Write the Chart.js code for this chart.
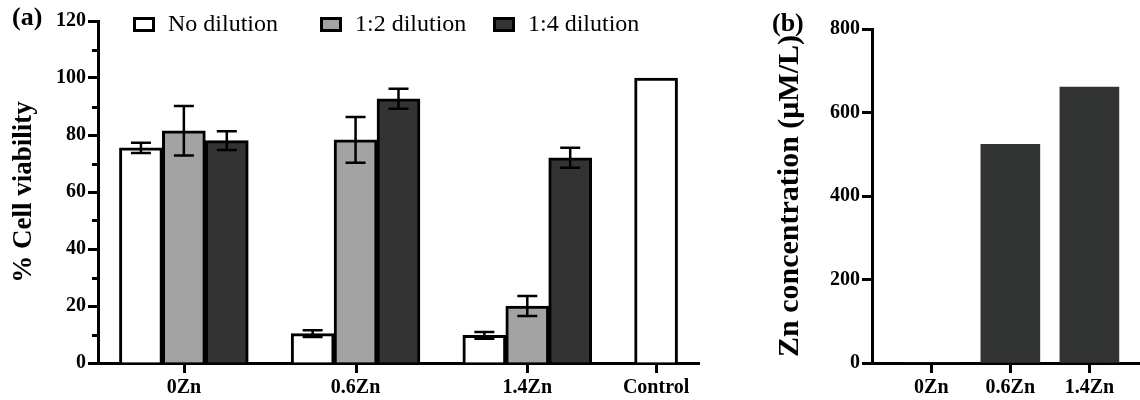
<!DOCTYPE html>
<html>
<head>
<meta charset="utf-8">
<script src="https://cdn.jsdelivr.net/npm/chart.js@4.4.0/dist/chart.umd.min.js"></script>
<style>
  body { margin: 0; background: #fff; width: 1140px; height: 400px; overflow: hidden; position: relative; }
  #wrapA { position: absolute; left: 0; top: 0; width: 760px; height: 400px; }
  #wrapB { position: absolute; left: 760px; top: 0; width: 380px; height: 400px; }
</style>
</head>
<body>
<div id="wrapA"><canvas id="chartA"></canvas></div>
<div id="wrapB"><canvas id="chartB"></canvas></div>
<script>
// panel (a) data
const groups = ['0Zn', '0.6Zn', '1.4Zn', 'Control'];
const seriesNames = ['No dilution', '1:2 dilution', '1:4 dilution'];
const noDilution = [75.5, 10.3, 9.7, 100];
const noDilutionErr = [1.8, 1.2, 1.2, 0];
const dil12 = [81.5, 78.3, 20];
const dil12Err = [8.7, 8, 3.5];
const dil14 = [78, 92.7, 72];
const dil14Err = [3.3, 3.5, 3.5];

// panel (b) data
const znGroups = ['0Zn', '0.6Zn', '1.4Zn'];
const znConc = [0, 524, 661];

const FONT = '"Liberation Serif", "Times New Roman", serif';
const colors = ['#ffffff', '#a3a3a3', '#333333'];

// slot of each group on the linear x axis (one slot per bar, gaps between groups)
const groupSlot = [1, 5, 9, 12];
function points(vals, offset) {
  return vals.map((v, i) => ({ x: groupSlot[i] + (groups[i] === 'Control' ? 0 : offset), y: v }));
}

const errorBars = {
  id: 'errorBars',
  afterDatasetsDraw(chart) {
    const ctx = chart.ctx;
    const yScale = chart.scales.y;
    chart.data.datasets.forEach((ds, i) => {
      if (!ds.errors) return;
      const meta = chart.getDatasetMeta(i);
      meta.data.forEach((bar, j) => {
        const e = ds.errors[j];
        if (!e) return;
        const v = ds.data[j].y;
        const top = yScale.getPixelForValue(v + e);
        const bot = yScale.getPixelForValue(v - e);
        ctx.save();
        ctx.strokeStyle = '#000';
        ctx.lineWidth = 2.5;
        ctx.beginPath();
        ctx.moveTo(bar.x, top); ctx.lineTo(bar.x, bot);
        ctx.moveTo(bar.x - 10, top); ctx.lineTo(bar.x + 10, top);
        ctx.moveTo(bar.x - 10, bot); ctx.lineTo(bar.x + 10, bot);
        ctx.stroke();
        ctx.restore();
      });
    });
  }
};

// short minor ticks on y, and downward ticks under each x category
const axisTicks = {
  id: 'axisTicks',
  afterDraw(chart, args, opts) {
    const ctx = chart.ctx;
    const { left, bottom } = chart.chartArea;
    ctx.save();
    ctx.strokeStyle = '#000';
    ctx.lineWidth = 3;
    (opts.minorY || []).forEach(v => {
      const y = Math.round(chart.scales.y.getPixelForValue(v)) + 0.5;
      ctx.beginPath();
      ctx.moveTo(left - 6, y);
      ctx.lineTo(left, y);
      ctx.stroke();
    });
    const xs = chart.scales.x;
    xs.ticks.forEach((t, i) => {
      const x = Math.round(xs.getPixelForTick(i)) + 0.5;
      ctx.beginPath();
      ctx.moveTo(x, bottom);
      ctx.lineTo(x, bottom + 10);
      ctx.stroke();
    });
    ctx.restore();
  }
};

const boxLegend = {
  id: 'boxLegend',
  afterDraw(chart, args, opts) {
    if (!opts.xs) return;
    const ctx = chart.ctx;
    ctx.save();
    chart.data.datasets.forEach((ds, i) => {
      const x = opts.xs[i];
      ctx.fillStyle = ds.backgroundColor;
      ctx.fillRect(x, opts.y, 22, 15);
      ctx.strokeStyle = '#000';
      ctx.lineWidth = 3;
      ctx.strokeRect(x + 1.5, opts.y + 1.5, 19, 12);
      ctx.fillStyle = '#000';
      ctx.font = '24px ' + FONT;
      ctx.textBaseline = 'middle';
      ctx.fillText(ds.label, x + 35, opts.y + 8);
    });
    ctx.restore();
  }
};

const panelLabel = {
  id: 'panelLabel',
  afterDraw(chart, args, opts) {
    if (!opts.text) return;
    const ctx = chart.ctx;
    ctx.save();
    ctx.fillStyle = '#000';
    ctx.font = 'bold 26px ' + FONT;
    ctx.textBaseline = 'alphabetic';
    ctx.fillText(opts.text, opts.x, opts.y);
    ctx.restore();
  }
};

Chart.register(errorBars, axisTicks, boxLegend, panelLabel);

const tickFont = { family: FONT, size: 20, weight: 'bold' };

new Chart(document.getElementById('chartA'), {
  type: 'bar',
  data: {
    datasets: [
      { label: seriesNames[0], data: points(noDilution, -1), errors: noDilutionErr, backgroundColor: colors[0] },
      { label: seriesNames[1], data: points(dil12, 0), errors: dil12Err, backgroundColor: colors[1] },
      { label: seriesNames[2], data: points(dil14, 1), errors: dil14Err, backgroundColor: colors[2] }
    ].map(ds => Object.assign(ds, { borderColor: '#000', borderWidth: 3, grouped: false, barThickness: 43 }))
  },
  options: {
    responsive: true,
    maintainAspectRatio: false,
    animation: false,
    layout: { padding: { top: 21, right: 61, bottom: 0, left: 0 } },
    plugins: {
      legend: { display: false },
      tooltip: { enabled: false },
      axisTicks: { minorY: [10, 30, 50, 70, 90, 110] },
      boxLegend: { xs: [133, 320, 493], y: 17 },
      panelLabel: { text: '(a)', x: 12, y: 25 }
    },
    scales: {
      x: {
        type: 'linear',
        offset: false,
        min: -1,
        max: 13,
        afterBuildTicks: s => { s.ticks = groupSlot.map(v => ({ value: v })); },
        afterFit: s => { s.height = 37; },
        ticks: {
          callback: (v, i) => groups[i],
          font: tickFont, color: '#000', padding: 13, autoSkip: false, maxRotation: 0
        },
        grid: { offset: false, drawOnChartArea: false, drawTicks: false, color: '#000' },
        border: { color: '#000', width: 3 }
      },
      y: {
        min: 0,
        max: 120,
        afterFit: s => { s.width = 98; },
        ticks: { stepSize: 20, font: tickFont, color: '#000', padding: 2 },
        grid: { drawOnChartArea: false, tickLength: 10, tickWidth: 3, color: '#000' },
        border: { color: '#000', width: 3 },
        title: {
          display: true, text: '% Cell viability', color: '#000',
          font: { family: FONT, size: 27, weight: 'bold' }, padding: { top: 8, bottom: 0 }
        }
      }
    }
  }
});

new Chart(document.getElementById('chartB'), {
  type: 'bar',
  data: {
    datasets: [{
      label: 'Zn concentration',
      data: znConc.map((v, i) => ({ x: i, y: v })),
      backgroundColor: '#323333',
      borderWidth: 0,
      barThickness: 59
    }]
  },
  options: {
    responsive: true,
    maintainAspectRatio: false,
    animation: false,
    layout: { padding: { top: 29, right: 0, bottom: 0, left: 0 } },
    plugins: {
      legend: { display: false },
      tooltip: { enabled: false },
      panelLabel: { text: '(b)', x: 12, y: 31 }
    },
    scales: {
      x: {
        type: 'linear',
        offset: false,
        min: -0.75,
        max: 2.64,
        afterBuildTicks: s => { s.ticks = znGroups.map((g, i) => ({ value: i })); },
        afterFit: s => { s.height = 37; },
        ticks: {
          callback: (v, i) => znGroups[i],
          font: tickFont, color: '#000', padding: 13, autoSkip: false, maxRotation: 0
        },
        grid: { offset: false, drawOnChartArea: false, drawTicks: false, color: '#000' },
        border: { color: '#000', width: 3 }
      },
      y: {
        min: 0,
        max: 800,
        afterFit: s => { s.width = 112; },
        ticks: { stepSize: 200, font: tickFont, color: '#000', padding: 2 },
        grid: { drawOnChartArea: false, tickLength: 10, tickWidth: 3, color: '#000' },
        border: { color: '#000', width: 3 },
        title: {
          display: true, text: 'Zn concentration (μM/L)', color: '#000',
          font: { family: FONT, size: 30, weight: 'bold' }, padding: { top: 12, bottom: 0 }
        }
      }
    }
  }
});
</script>
</body>
</html>
